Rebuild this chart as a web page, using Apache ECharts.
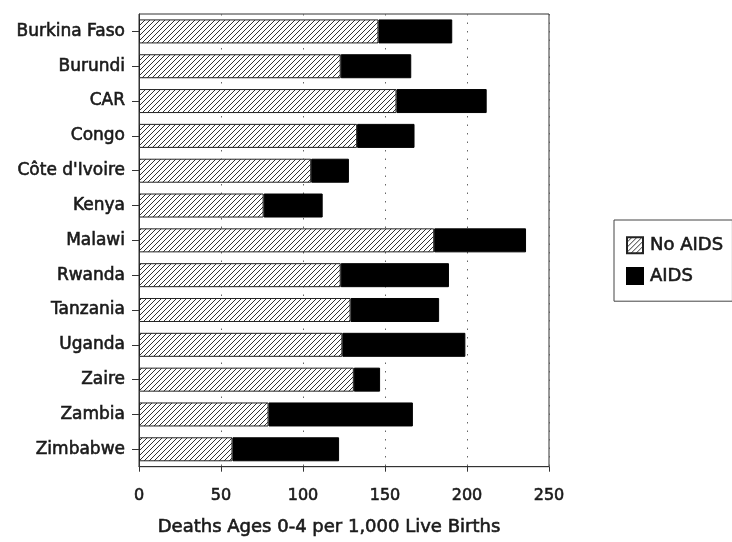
<!DOCTYPE html>
<html>
<head>
<meta charset="utf-8">
<title>Deaths Ages 0-4</title>
<script src="https://cdn.jsdelivr.net/npm/echarts@6/dist/echarts.min.js"></script>
<style>
  html, body { margin: 0; padding: 0; background: #fff; }
  #chart { width: 732px; height: 542px; }
</style>
</head>
<body>
<div id="chart"></div>
<script>
// data (deaths per 1,000 live births)
const countries = ['Burkina Faso', 'Burundi', 'CAR', 'Congo', "Côte d'Ivoire", 'Kenya', 'Malawi',
  'Rwanda', 'Tanzania', 'Uganda', 'Zaire', 'Zambia', 'Zimbabwe']
const noAids = [146, 123, 157, 133, 105, 76, 180, 123, 129, 124, 131, 79, 57]
const aids = [45, 43, 55, 35, 23, 36, 56, 66, 54, 75, 16, 88, 65]
const seriesNames = ['No AIDS', 'AIDS']

const FONT = 'DejaVu Sans'
const INK = '#1a1a1a'
// the scanned original has heavy type, thicken the glyphs a little
const heavy = { textBorderColor: INK, textBorderWidth: 0.6 }

// diagonal hatch tile for the "No AIDS" bars
function hatchTile() {
  const c = document.createElement('canvas')
  c.width = 5
  c.height = 5
  const g = c.getContext('2d')
  g.fillStyle = '#fff'
  g.fillRect(0, 0, 5, 5)
  g.strokeStyle = '#333'
  g.lineWidth = 1
  g.beginPath()
  g.moveTo(-1, 6); g.lineTo(6, -1)
  g.moveTo(-1, 1); g.lineTo(1, -1)
  g.moveTo(4, 6); g.lineTo(6, 4)
  g.stroke()
  return c
}

const chart = echarts.init(document.getElementById('chart'))

chart.setOption({
  backgroundColor: '#fff',
  animation: false,
  textStyle: { fontFamily: FONT, color: INK },
  legend: {
    orient: 'vertical',
    left: 614,
    top: 220,
    data: seriesNames,
    icon: 'rect',
    itemWidth: 16,
    itemHeight: 16,
    itemGap: 12,
    padding: [16, 9, 16, 12],
    borderColor: '#444',
    borderWidth: 1,
    borderRadius: 0,
    textStyle: Object.assign({ fontFamily: FONT, fontSize: 18, color: INK, lineHeight: 18, padding: [0, 0, 0, 2] }, heavy)
  },
  grid: {
    left: 139,
    right: 183,
    top: 14,
    bottom: 72,
    show: true,
    borderColor: '#333',
    borderWidth: 1,
    backgroundColor: '#fff'
  },
  xAxis: {
    type: 'value',
    min: 0,
    max: 250,
    interval: 50,
    name: 'Deaths Ages 0-4 per 1,000 Live Births',
    nameLocation: 'middle',
    nameGap: 52,
    nameTextStyle: Object.assign({ fontFamily: FONT, fontSize: 18, color: INK, padding: [0, 30, 0, 0] }, heavy),
    axisLine: { show: true, lineStyle: { color: '#333', width: 1 } },
    axisTick: { show: true, length: 5, lineStyle: { color: '#333' } },
    axisLabel: Object.assign({ fontFamily: FONT, fontSize: 16, color: INK, margin: 21 }, heavy),
    splitLine: { show: true, lineStyle: { color: '#666', type: [1.5, 7], width: 1 } }
  },
  yAxis: {
    type: 'category',
    inverse: true,
    data: countries,
    axisLine: { show: true, lineStyle: { color: '#333', width: 1 } },
    axisTick: { show: true, alignWithLabel: true, length: 7, lineStyle: { color: '#333' } },
    axisLabel: Object.assign({ fontFamily: FONT, fontSize: 17, color: INK, margin: 14 }, heavy)
  },
  series: [
    {
      name: seriesNames[0],
      type: 'bar',
      stack: 'total',
      barWidth: 24,
      data: noAids,
      itemStyle: {
        color: { image: hatchTile(), repeat: 'repeat' },
        borderColor: '#222',
        borderWidth: 1
      }
    },
    {
      name: seriesNames[1],
      type: 'bar',
      stack: 'total',
      barWidth: 24,
      data: aids,
      itemStyle: {
        color: '#000',
        borderColor: '#000',
        borderWidth: 1
      }
    }
  ]
})
</script>
</body>
</html>
